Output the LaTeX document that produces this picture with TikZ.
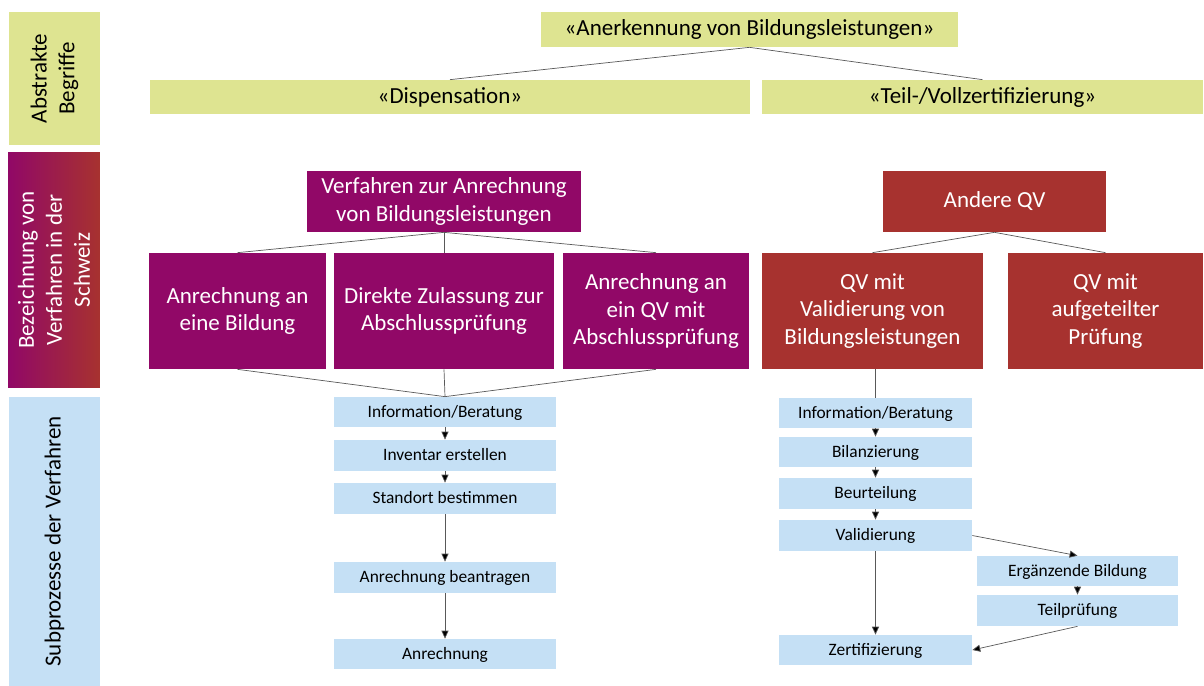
\documentclass[tikz,border=0pt]{standalone}
\usepackage{fontspec}
\setmainfont{Carlito}
\usetikzlibrary{arrows.meta}
\definecolor{abstrgreen}{RGB}{222,228,145}
\definecolor{verfpurple}{RGB}{145,8,103}
\definecolor{verfred}{RGB}{167,50,47}
\definecolor{subblue}{RGB}{197,224,245}
\tikzset{
  bigfont/.style={font=\fontsize{13.1}{15.9}\selectfont},
  smallfont/.style={font=\fontsize{9.9}{12}\selectfont},
  termbox/.style={fill=abstrgreen, inner sep=0, bigfont},
  purplebox/.style={fill=verfpurple, text=white, inner sep=0, align=center, bigfont},
  redbox/.style={fill=verfred, text=white, inner sep=0, align=center, bigfont},
  subbox/.style={fill=subblue, inner sep=0, smallfont, text height=1.6ex, text depth=0.4ex},
  tie/.style={draw=black!65, line width=0.4pt},
  flow/.style={draw=black!65, line width=0.4pt, -{Triangle[length=4.5pt,width=4pt,fill=black]}}
}

\begin{document}
\begin{tikzpicture}[x=0.02cm, y=-0.02cm]
			%%%%% START %%%%%
			\useasboundingbox (0,0) rectangle (1204,686);

			% bands on the left
			\node[termbox, rotate=90, minimum width=2.66cm, minimum height=1.82cm, align=center] (bandabs) at (54.5,78.5) {Abstrakte\\Begriffe};
			\node[rotate=90, inner sep=0, minimum width=4.72cm, minimum height=1.84cm, left color=verfpurple, right color=verfred, text=white, align=center, bigfont] (bandbez) at (54,270) {Bezeichnung von\\Verfahren in der\\Schweiz};
			\node[fill=subblue, inner sep=0, rotate=90, minimum width=5.78cm, minimum height=1.82cm, bigfont] (bandsub) at (54.5,541.5) {Subprozesse der Verfahren};

			% abstract terms
			\node[termbox, minimum width=8.34cm, minimum height=0.7cm] (anerk) at (749.5,29.5) {«Anerkennung von Bildungsleistungen»};
			\node[termbox, minimum width=12cm, minimum height=0.68cm] (disp) at (450,97) {«Dispensation»};
			\node[termbox, minimum width=8.82cm, minimum height=0.68cm] (teil) at (982.5,97) {«Teil-/Vollzertifizierung»};
			\draw[tie] (anerk.south) -- (disp.north);
			\draw[tie] (anerk.south) -- (teil.north);

			% procedures
			\node[purplebox, minimum width=5.48cm, minimum height=1.22cm] (verf) at (444,201.5) {Verfahren zur Anrechnung\\von Bildungsleistungen};
			\node[purplebox, minimum width=3.54cm, minimum height=2.32cm] (anbild) at (237.5,311) {Anrechnung an\\eine Bildung};
			\node[purplebox, minimum width=4.4cm, minimum height=2.32cm] (direkt) at (444,311) {Direkte Zulassung zur\\Abschlussprüfung};
			\node[purplebox, minimum width=3.72cm, minimum height=2.32cm] (anqv) at (656,311) {Anrechnung an\\ein QV mit\\Abschlussprüfung};
			\draw[tie] (verf.south) -- (anbild.north);
			\draw[tie] (verf.south) -- (direkt.north);
			\draw[tie] (verf.south) -- (anqv.north);

			\node[redbox, minimum width=4.46cm, minimum height=1.22cm] (andere) at (994.5,201.5) {Andere QV};
			\node[redbox, minimum width=4.42cm, minimum height=2.32cm] (qvval) at (872.5,311) {QV mit\\Validierung von\\Bildungsleistungen};
			\node[redbox, minimum width=3.9cm, minimum height=2.32cm] (qvauf) at (1105.5,311) {QV mit\\aufgeteilter\\Prüfung};
			\draw[tie] (andere.south) -- (qvval.north);
			\draw[tie] (andere.south) -- (qvauf.north);

			% sub processes, dispensation
			\node[subbox, minimum width=4.44cm, minimum height=0.6cm] (dinfo) at (445,412) {Information/Beratung};
			\node[subbox, minimum width=4.44cm, minimum height=0.62cm] (dinv) at (445,455.5) {Inventar erstellen};
			\node[subbox, minimum width=4.44cm, minimum height=0.62cm] (dstand) at (445,498.5) {Standort bestimmen};
			\node[subbox, minimum width=4.44cm, minimum height=0.62cm] (dbeantr) at (445,577.5) {Anrechnung beantragen};
			\node[subbox, minimum width=4.44cm, minimum height=0.6cm] (danr) at (445,654) {Anrechnung};
			\draw[tie] (anbild.south) -- (dinfo.north);
			\draw[tie] (direkt.south) -- (dinfo.north);
			\draw[tie] (anqv.south) -- (dinfo.north);
			\draw[flow] (dinfo) -- (dinv);
			\draw[flow] (dinv) -- (dstand);
			\draw[flow] (dstand) -- (dbeantr);
			\draw[flow] (dbeantr) -- (danr);

			% sub processes, certification
			\node[subbox, minimum width=3.86cm, minimum height=0.6cm] (zinfo) at (875.5,413) {Information/Beratung};
			\node[subbox, minimum width=3.86cm, minimum height=0.6cm] (zbil) at (875.5,452) {Bilanzierung};
			\node[subbox, minimum width=3.86cm, minimum height=0.62cm] (zbeur) at (875.5,493.5) {Beurteilung};
			\node[subbox, minimum width=3.86cm, minimum height=0.62cm] (zval) at (875.5,535.5) {Validierung};
			\node[subbox, minimum width=3.86cm, minimum height=0.6cm] (zzert) at (875.5,650) {Zertifizierung};
			\node[subbox, minimum width=4.02cm, minimum height=0.6cm] (zerg) at (1077.5,571) {Ergänzende Bildung};
			\node[subbox, minimum width=4.02cm, minimum height=0.62cm] (zteil) at (1077.5,610.5) {Teilprüfung};
			\draw[tie] (zinfo.north |- qvval.south) -- (zinfo.north);
			\draw[flow] (zinfo) -- (zbil);
			\draw[flow] (zbil) -- (zbeur);
			\draw[flow] (zbeur) -- (zval);
			\draw[flow] (zval) -- (zzert);
			\draw[flow] (zval.east) -- (zerg.north);
			\draw[flow] (zerg) -- (zteil);
			\draw[flow] (zteil.south) -- (zzert.east);

			%%%%% END %%%%%
\end{tikzpicture}
\end{document}
